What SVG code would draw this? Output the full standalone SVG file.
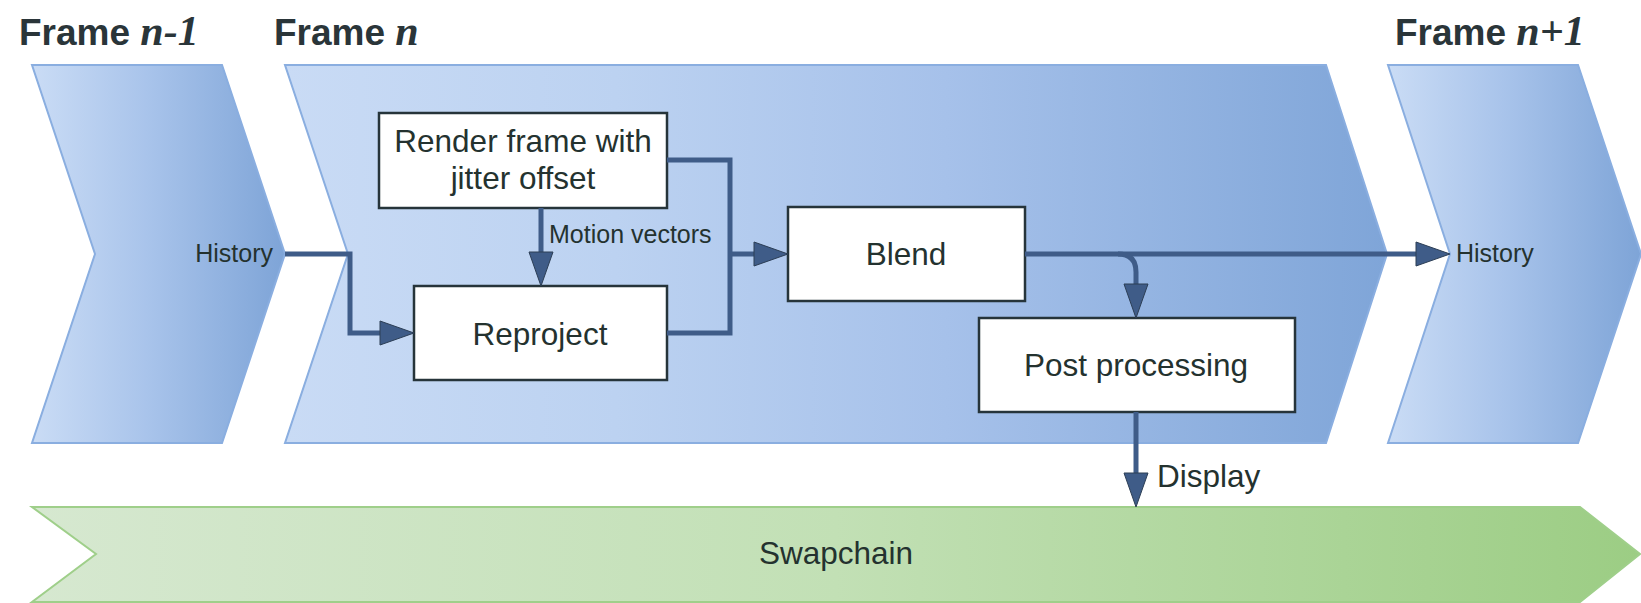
<svg xmlns="http://www.w3.org/2000/svg" width="1641" height="603" viewBox="0 0 1641 603">
<style>
.frame{stroke:#8aaee0;stroke-width:2}
.box{fill:#ffffff;stroke:#26343a;stroke-width:2.5}
.t{font-family:"Liberation Sans",Arial,sans-serif;fill:#24322f}
.big{font-size:31.5px}
.small{font-size:25px}
.title{font-family:"Liberation Sans",Arial,sans-serif;font-weight:bold;font-size:37px;fill:#2a3539}
.it{font-family:"Liberation Serif","Times New Roman",serif;font-style:italic;font-weight:bold;font-size:42px}
.conn{fill:none;stroke:#3f5c88;stroke-width:5;stroke-linejoin:miter}
</style>
<defs>
<linearGradient id="gSide" x1="0" y1="0" x2="1" y2="0">
<stop offset="0" stop-color="#cadcf5"/>
<stop offset="0.45" stop-color="#a9c4eb"/>
<stop offset="1" stop-color="#7ea4d7"/>
</linearGradient>
<linearGradient id="gMain" x1="0" y1="0" x2="1" y2="0">
<stop offset="0" stop-color="#c9dbf5"/>
<stop offset="0.3" stop-color="#bcd2f1"/>
<stop offset="0.6" stop-color="#a6c1ea"/>
<stop offset="1" stop-color="#7fa5d8"/>
</linearGradient>
<linearGradient id="gGreen" x1="0" y1="0" x2="1" y2="0">
<stop offset="0" stop-color="#d6e8d0"/>
<stop offset="0.5" stop-color="#c2e0b5"/>
<stop offset="1" stop-color="#9ccd84"/>
</linearGradient>
<marker id="arr" markerUnits="userSpaceOnUse" markerWidth="40" markerHeight="30" viewBox="-2 -14 40 28" refX="2" refY="0" orient="auto">
<path d="M0,-12 L34,0 L0,12 z" fill="#3f5c88" stroke="#2c3e55" stroke-width="1"/>
</marker>
</defs>

<g id="frame-prev">
<polygon class="frame" fill="url(#gSide)" points="32,65 222,65 285,254 222,443 32,443 95,254"/>
<text class="title" x="19" y="45">Frame <tspan class="it">n-1</tspan></text>
<text class="t small" x="273" y="262" text-anchor="end">History</text>
</g>

<g id="frame-cur">
<polygon class="frame" fill="url(#gMain)" points="285,65 1326,65 1387,254 1326,443 285,443 348,254"/>
<text class="title" x="274" y="45">Frame <tspan class="it">n</tspan></text>
</g>

<g id="frame-next">
<polygon class="frame" fill="url(#gSide)" points="1388,65 1578,65 1641,254 1578,443 1388,443 1450,254"/>
<text class="title" x="1395" y="45">Frame <tspan class="it">n+1</tspan></text>
<text class="t small" x="1456" y="262">History</text>
</g>

<g id="swapchain">
<polygon fill="url(#gGreen)" stroke="#9fcf8a" stroke-width="2" points="32,507 1580,507 1640,554 1580,602 32,602 96,554"/>
<text class="t big" x="836" y="564" text-anchor="middle">Swapchain</text>
</g>

<g id="render">
<rect class="box" x="379" y="113" width="288" height="95"/>
<text class="t big" x="523" y="152" text-anchor="middle">Render frame with</text>
<text class="t big" x="523" y="189" text-anchor="middle">jitter offset</text>
</g>

<g id="reproject">
<rect class="box" x="414" y="286" width="253" height="94"/>
<text class="t big" x="540" y="345" text-anchor="middle">Reproject</text>
</g>

<g id="blend">
<rect class="box" x="788" y="207" width="237" height="94"/>
<text class="t big" x="906" y="265" text-anchor="middle">Blend</text>
</g>

<g id="post">
<rect class="box" x="979" y="318" width="316" height="94"/>
<text class="t big" x="1136" y="376" text-anchor="middle">Post processing</text>
</g>

<g id="connectors">
<path class="conn" d="M285,254 H350 V333 H382" marker-end="url(#arr)"/>
<path class="conn" d="M541,208 V254" marker-end="url(#arr)"/>
<path class="conn" d="M667,160 H730 V333 H667"/>
<path class="conn" d="M730,254 H756" marker-end="url(#arr)"/>
<path class="conn" d="M1025,254 H1418" marker-end="url(#arr)"/>
<path class="conn" d="M1118,254 Q1136,254 1136,272 V286" marker-end="url(#arr)"/>
<path class="conn" d="M1136,412 V475" marker-end="url(#arr)"/>
<text class="t small" x="549" y="243">Motion vectors</text>
<text class="t big" x="1157" y="487">Display</text>
</g>
</svg>
